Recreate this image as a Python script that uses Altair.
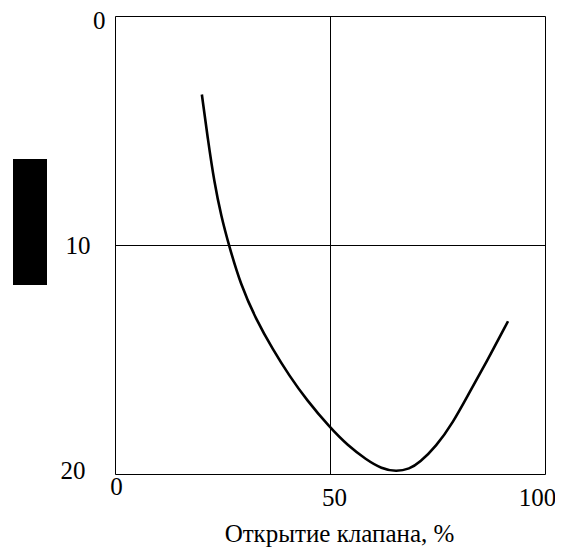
import altair as alt
import pandas as pd

# Valve opening, % (x) and the plotted quantity (y, reversed axis)
opening = [20.2, 21.6, 23.1, 24.7, 26.5, 29.2, 32.8, 36.7, 40.6, 44.5, 50.0, 54.1, 58.4, 62.0, 65.4, 68.5, 70.8, 74.7, 78.6, 82.4, 86.3, 91.4]
value = [3.43, 5.39, 7.28, 8.74, 10.02, 11.72, 13.25, 14.56, 15.73, 16.75, 17.98, 18.75, 19.37, 19.77, 19.9, 19.78, 19.51, 18.79, 17.76, 16.45, 15.14, 13.33]

x_ticks = [0, 50, 100]
y_ticks = [0, 10, 20]
x_title = "Открытие клапана, %"

df = pd.DataFrame({"x": opening, "y": value})

FONT = "Liberation Serif"

line = alt.Chart(df).mark_line(color="black", strokeWidth=2.6, interpolate="basis").encode(
    x=alt.X("x:Q",
            scale=alt.Scale(domain=[0, 100], nice=False),
            axis=alt.Axis(values=x_ticks, title=x_title, grid=True, gridColor="black", gridOpacity=1,
                          gridWidth=1, domain=False, ticks=False, labelFlush=False,
                          labelFont=FONT, labelFontSize=25, labelColor="black",
                          labelPadding=alt.ExprRef("datum.value == 0 ? 0 : 11"),
                          labelOffset=alt.ExprRef("datum.value == 50 ? 4 : datum.value == 100 ? -8 : 1"),
                          titleFont=FONT, titleFontSize=25, titleFontWeight="normal", titleColor="black",
                          titleX=224, titleY=67, titleBaseline="alphabetic")),
    y=alt.Y("y:Q",
            scale=alt.Scale(domain=[0, 20], reverse=True, nice=False),
            axis=alt.Axis(values=y_ticks, title=None, grid=True, gridColor="black", gridOpacity=1,
                          gridWidth=1, domain=False, ticks=False, labelFlush=False,
                          labelFont=FONT, labelFontSize=25, labelColor="black",
                          labelAlign="right", labelBaseline="middle",
                          labelPadding=alt.ExprRef("datum.value == 0 ? 10 : datum.value == 10 ? 25 : 30"),
                          labelOffset=alt.ExprRef("datum.value == 0 ? 4 : datum.value == 20 ? -3.5 : 0"))),
)

# redacted axis-title box
box = alt.Chart(df).mark_rect(color="black").encode(
    x=alt.value(-102), x2=alt.value(-68), y=alt.value(143), y2=alt.value(269)
)

chart = alt.layer(box, line).properties(
    width=430, height=458,
    autosize=alt.AutoSizeParams(type="none"),
    padding={"left": 107, "top": 8, "right": 10, "bottom": 80},
).configure_view(stroke="black", strokeWidth=1).configure(background="white")

chart.save("out.html", embed_options={"renderer": "svg", "actions": False})
